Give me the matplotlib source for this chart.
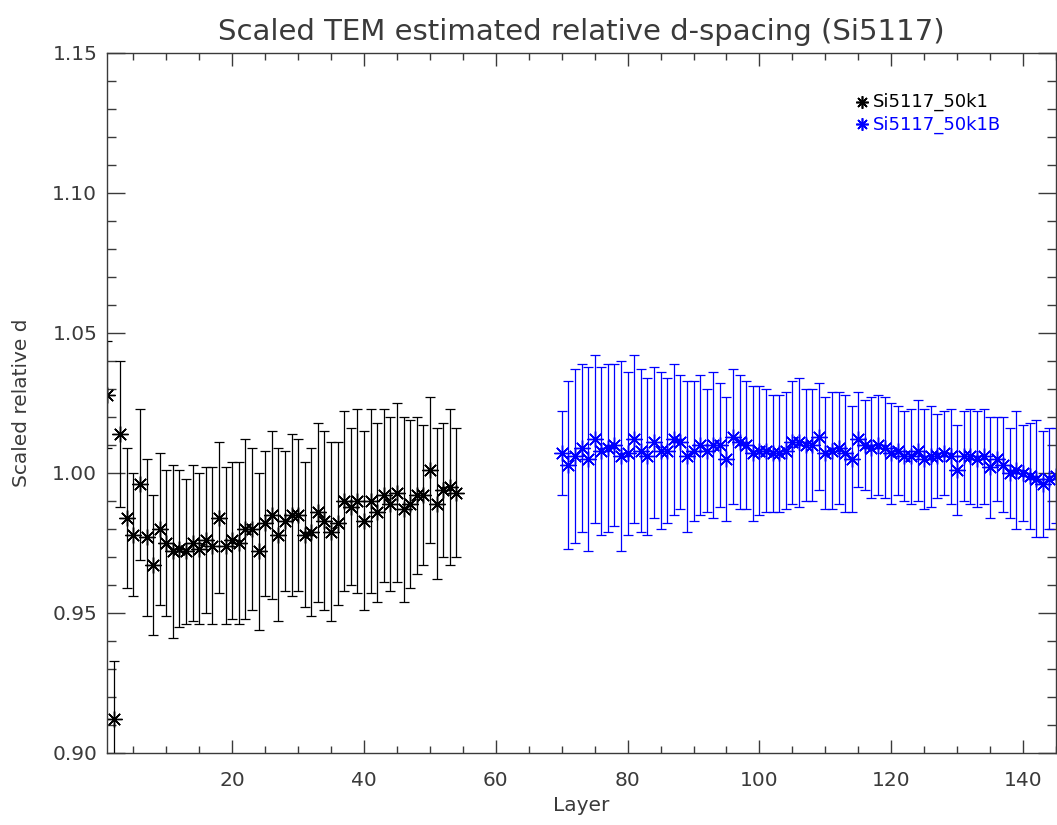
import numpy as np
import matplotlib
matplotlib.use("Agg")
import matplotlib.pyplot as plt
from matplotlib.ticker import MultipleLocator

# Series 1: Si5117_50k1 (layers 1-54)
layers_a = list(range(1, 55))
d_a = [1.028, 0.912, 1.014, 0.984, 0.978, 0.996, 0.977, 0.967, 0.980, 0.975,
       0.972, 0.973, 0.972, 0.975, 0.973, 0.976, 0.974, 0.984, 0.974, 0.976,
       0.975, 0.980, 0.980, 0.972, 0.982, 0.985, 0.978, 0.983, 0.985, 0.985,
       0.978, 0.979, 0.986, 0.983, 0.979, 0.982, 0.990, 0.988, 0.990, 0.983,
       0.990, 0.986, 0.992, 0.989, 0.993, 0.987, 0.989, 0.992, 0.992, 1.001,
       0.989, 0.994, 0.995, 0.993]
err_a = [0.019, 0.021, 0.026, 0.025, 0.022, 0.027, 0.028, 0.025, 0.027, 0.026,
         0.031, 0.028, 0.026, 0.028, 0.027, 0.026, 0.028, 0.027, 0.028, 0.028,
         0.029, 0.032, 0.029, 0.028, 0.026, 0.030, 0.031, 0.025, 0.029, 0.027,
         0.026, 0.030, 0.032, 0.032, 0.032, 0.029, 0.032, 0.028, 0.033, 0.032,
         0.033, 0.032, 0.031, 0.031, 0.032, 0.033, 0.030, 0.028, 0.025, 0.026,
         0.027, 0.024, 0.028, 0.023]

# Series 2: Si5117_50k1B (layers 70-145)
layers_b = list(range(70, 146))
d_b = [1.007, 1.003, 1.006, 1.009, 1.005, 1.012, 1.008, 1.009, 1.010, 1.006,
       1.007, 1.012, 1.008, 1.006, 1.011, 1.008, 1.008, 1.012, 1.011, 1.006,
       1.008, 1.010, 1.008, 1.010, 1.010, 1.005, 1.013, 1.011, 1.010, 1.007,
       1.008, 1.008, 1.007, 1.007, 1.008, 1.011, 1.011, 1.010, 1.010, 1.013,
       1.007, 1.008, 1.009, 1.007, 1.005, 1.012, 1.010, 1.009, 1.010, 1.009,
       1.007, 1.008, 1.006, 1.006, 1.008, 1.005, 1.006, 1.006, 1.007, 1.006,
       1.001, 1.006, 1.006, 1.005, 1.006, 1.002, 1.005, 1.003, 1.000, 1.001,
       1.000, 0.999, 0.998, 0.996, 0.998, 0.999]
err_b = [0.015, 0.030, 0.031, 0.030, 0.033, 0.030, 0.030, 0.030, 0.029, 0.034,
         0.029, 0.030, 0.029, 0.028, 0.027, 0.028, 0.026, 0.027, 0.024, 0.027,
         0.025, 0.025, 0.022, 0.026, 0.022, 0.022, 0.024, 0.024, 0.023, 0.024,
         0.023, 0.022, 0.021, 0.021, 0.021, 0.022, 0.023, 0.020, 0.020, 0.019,
         0.020, 0.021, 0.020, 0.021, 0.019, 0.017, 0.016, 0.018, 0.018, 0.018,
         0.018, 0.016, 0.016, 0.017, 0.018, 0.018, 0.018, 0.015, 0.015, 0.017,
         0.016, 0.016, 0.017, 0.017, 0.017, 0.018, 0.015, 0.017, 0.016, 0.021,
         0.017, 0.019, 0.021, 0.019, 0.018, 0.017]

series_names = ["Si5117_50k1", "Si5117_50k1B"]
series_colors = ["black", "#0000ff"]

plt.rcParams["font.family"] = ["DejaVu Sans"]
fig = plt.figure(figsize=(10.57, 8.25), dpi=100)
ax = fig.add_axes([107 / 1057, 72 / 825, 949 / 1057, 700 / 825])

star = (8, 2, 0)
for xs, ys, es, col in [(layers_a, d_a, err_a, series_colors[0]),
                        (layers_b, d_b, err_b, series_colors[1])]:
    ax.errorbar(xs, ys, yerr=es, fmt="none", ecolor=col, elinewidth=0.9,
                capsize=3.6, capthick=0.9)
    ax.plot(xs, ys, linestyle="none", marker=star, markersize=11.5,
            markeredgewidth=1.0, color=col)

ax.set_xlim(1, 145)
ax.set_ylim(0.90, 1.15)
ax.xaxis.set_major_locator(MultipleLocator(20))
ax.xaxis.set_minor_locator(MultipleLocator(5))
ax.yaxis.set_major_locator(MultipleLocator(0.05))
ax.yaxis.set_minor_locator(MultipleLocator(0.01))
ax.yaxis.set_major_formatter(plt.FormatStrFormatter("%.2f"))

tick_col = "#3a3a3a"
ax.tick_params(axis="both", which="both", direction="in", top=True, right=True,
               color=tick_col, width=1.0, labelcolor=tick_col, labelsize=14.5)
ax.tick_params(axis="x", which="major", length=9.5, pad=13)
ax.tick_params(axis="x", which="minor", length=4.8)
ax.tick_params(axis="y", which="major", length=13, pad=7)
ax.tick_params(axis="y", which="minor", length=6.5)
for sp in ax.spines.values():
    sp.set_color(tick_col)
    sp.set_linewidth(1.0)

ax.set_xlabel("Layer", fontsize=14.5, color=tick_col, labelpad=4)
ax.set_ylabel("Scaled relative d", fontsize=14.5, color=tick_col, labelpad=15)
ax.set_title("Scaled TEM estimated relative d-spacing (Si5117)", fontsize=21,
             color=tick_col, pad=9)

# legend entries: symbol followed by coloured label
for i, (name, col) in enumerate(zip(series_names, series_colors)):
    y = 0.930 - i * 0.032
    ax.plot([0.7956], [y], transform=ax.transAxes, linestyle="none",
            marker=star, markersize=9, markeredgewidth=1.2, color=col,
            clip_on=False)
    ax.text(0.807, y, name, transform=ax.transAxes, color=col, fontsize=13,
            va="center", ha="left")

fig.savefig("out.png", dpi=100)
